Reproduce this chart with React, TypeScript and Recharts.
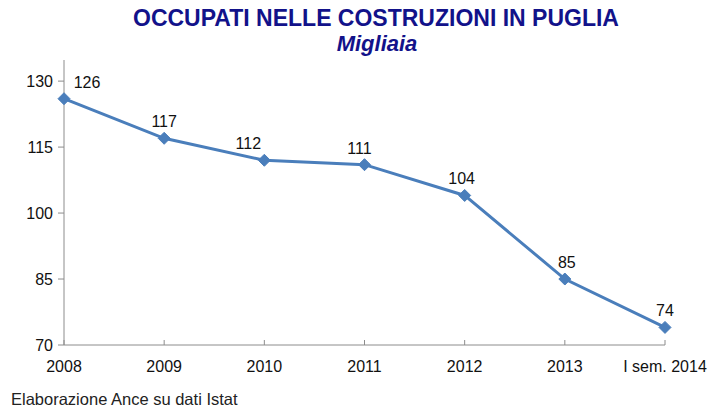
import { LineChart, Line, XAxis, YAxis, LabelList } from 'recharts';

const categories = ['2008', '2009', '2010', '2011', '2012', '2013', 'I sem. 2014'];
const occupati = [126, 117, 112, 111, 104, 85, 74];
const yTicks = [70, 85, 100, 115, 130];

// spostamento orizzontale delle etichette, come nel grafico originale
const labelDx = [23, 0, -16, -5, -3, 2, 0];

const data = categories.map((name, i) => ({ name, value: occupati[i] }));

const FONT = '"Liberation Sans", Arial, sans-serif';
const LINE_COLOR = '#4a7ebb';
const AXIS_COLOR = '#8c8c8c';
const TITLE_COLOR = '#12128a';

const Diamond = (props: any) => {
  const { cx, cy } = props;
  if (cx == null || cy == null) return null;
  const r = 6;
  return (
    <path
      d={`M${cx},${cy - r} L${cx + r},${cy} L${cx},${cy + r} L${cx - r},${cy} Z`}
      fill={LINE_COLOR}
      stroke={LINE_COLOR}
    />
  );
};

const XTick = (props: any) => {
  const { x, y, payload } = props;
  return (
    <g>
      <line x1={x} y1={y} x2={x} y2={y - 5} stroke={AXIS_COLOR} />
      <text x={x} y={y + 27} textAnchor="middle" fontSize={16} fill="#111" fontFamily={FONT}>
        {payload.value}
      </text>
    </g>
  );
};

const PointLabel = (props: any) => {
  const { x, y, value, index } = props;
  return (
    <text
      x={x + (labelDx[index] || 0)}
      y={y - 11}
      textAnchor="middle"
      fontSize={16}
      fill="#111"
      fontFamily={FONT}
    >
      {Math.round(value)}
    </text>
  );
};

export default function App() {
  return (
    <div style={{ position: 'fixed', left: 0, top: 0, width: 721, height: 412, background: '#fff', fontFamily: FONT }}>
      <div
        style={{
          position: 'absolute',
          left: 0,
          top: 7,
          width: 752,
          textAlign: 'center',
          color: TITLE_COLOR,
          fontWeight: 'bold',
          fontSize: 23,
          lineHeight: '23px',
          whiteSpace: 'nowrap',
        }}
      >
        OCCUPATI NELLE COSTRUZIONI IN PUGLIA
      </div>
      <div
        style={{
          position: 'absolute',
          left: 0,
          top: 33,
          width: 754,
          textAlign: 'center',
          color: TITLE_COLOR,
          fontWeight: 'bold',
          fontStyle: 'italic',
          fontSize: 22,
          lineHeight: '22px',
        }}
      >
        Migliaia
      </div>
      <LineChart
        width={721}
        height={412}
        data={data}
        margin={{ top: 60, right: 56, bottom: 47, left: 0 }}
      >
        <XAxis
          dataKey="name"
          stroke={AXIS_COLOR}
          tickLine={false}
          tickSize={0}
          tickMargin={0}
          height={20}
          tick={<XTick />}
          interval={0}
        />
        <YAxis
          domain={[70, 134.8]}
          ticks={yTicks}
          width={64}
          stroke={AXIS_COLOR}
          tickSize={6}
          tickMargin={5}
          tick={{ fontSize: 16, fill: '#111', fontFamily: FONT }}
          interval={0}
        />
        <Line
          type="linear"
          dataKey="value"
          stroke={LINE_COLOR}
          strokeWidth={3}
          dot={<Diamond />}
          activeDot={false}
          isAnimationActive={false}
        >
          <LabelList dataKey="value" content={<PointLabel />} />
        </Line>
      </LineChart>
      <div style={{ position: 'absolute', left: 11, top: 391, fontSize: 16.5, lineHeight: '16px', color: '#222' }}>
        Elaborazione Ance su dati Istat
      </div>
    </div>
  );
}
